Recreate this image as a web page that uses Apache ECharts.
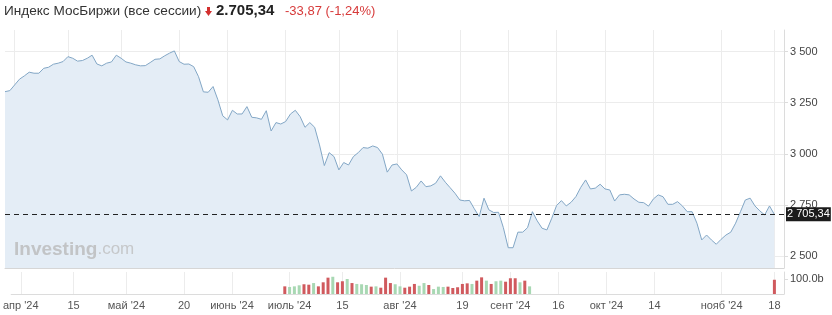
<!DOCTYPE html>
<html><head><meta charset="utf-8">
<script src="https://cdn.jsdelivr.net/npm/echarts@6/dist/echarts.min.js"></script>
<style>html,body{margin:0;padding:0;background:#fff}#c{width:832px;height:315px}</style>
</head><body><div id="c"></div>
<script>
// Daily close values of the MOEX index
const closes = [
3304,3309,3337,3365,3381,3399,3394,3394,3418,3423,3438,3443,3451,3475,3467,3453,3456,3467,3482,3439,
3430,3443,3449,3482,3467,3449,3443,3435,3430,3431,3446,3462,3464,3479,3492,3503,3451,3438,3439,3426,
3377,3303,3301,3329,3264,3186,3166,3213,3195,3195,3231,3179,3176,3169,3211,3112,3153,3146,3158,3195,
3213,3182,3130,3153,3130,3044,2943,3006,2987,2922,2958,2946,2987,3006,3031,3028,3039,3031,2999,2911,
2946,2951,2922,2898,2819,2837,2868,2840,2844,2857,2893,2862,2835,2808,2775,2771,2773,2732,2694,2784,
2727,2714,2715,2640,2542,2542,2618,2618,2640,2718,2673,2637,2629,2686,2748,2772,2746,2764,2792,2837,
2873,2829,2833,2852,2829,2824,2770,2800,2803,2800,2780,2764,2762,2745,2780,2800,2791,2754,2754,2767,
2746,2718,2718,2662,2580,2604,2580,2559,2583,2604,2618,2662,2718,2775,2784,2746,2722,2702,2746,2705.34
];
// Tick labels: [category index, text]
const tickLabels = [
[2,"апр '24"],[13,"15"],[24,"май '24"],[36,"20"],[46,"июнь '24"],[58,"июль '24"],[69,"15"],
[81,"авг '24"],[94,"19"],[104,"сент '24"],[114,"16"],[124,"окт '24"],[134,"14"],[148,"нояб '24"],[159,"18"]
];
const priceTicks = [2500,2750,3000,3250,3500];
const volumeTicks = [100];
// Volumes (billions) for the days where bars are shown
const volFirstIndex = 57;
const volumes = [51,47,51,58,65,62,73,51,78,109,115,78,85,100,73,67,65,60,49,51,
42,109,73,65,51,42,49,67,55,73,60,33,49,47,49,40,45,67,71,67,
89,111,89,67,85,89,82,105,105,78,89,51];
const volDirs = 'rgggrrgrrrgrrgrgggrgrrrggrrrggrgggrrrrrgrrgrggrrrgrg';
const lastVolIndex = 159;
const lastVolume = 95;
const lastVolDir = 'r';
const lastPrice = 2705.34;
const priceText = '2.705,34';
const lastPriceLabel = '2 705,34';
const changeText = '-33,87 (-1,24%)';
const extraSlots = 2;

const total = closes.length + extraSlots;
const categories = Array.from({length: total}, (_, i) => 'd' + i);
const labelMap = new Map(tickLabels);
const isTick = (i) => labelMap.has(i);
const fmtSpace = v => String(v).replace(/\B(?=(\d{3})+(?!\d))/g, ' ');
const RED = '#d05a5e', GREEN = '#a8d8b3';
const volData = categories.map(() => null);
volumes.forEach((v, k) => { volData[volFirstIndex + k] = {value: v, itemStyle: {color: volDirs[k] === 'r' ? RED : GREEN}}; });
volData[lastVolIndex] = {value: lastVolume, itemStyle: {color: lastVolDir === 'r' ? RED : GREEN}};

const FONT = 'Liberation Sans, Arial, sans-serif';
const chart = echarts.init(document.getElementById('c'), null, {renderer: 'canvas'});
const gridLine = {show: true, interval: isTick, lineStyle: {color: '#ececec', width: 1}};
chart.setOption({
  animation: false,
  textStyle: {fontFamily: FONT},
  grid: [
    {left: 5, right: 48, top: 30, bottom: 47},
    {left: 5, right: 48, top: 272, height: 22}
  ],
  xAxis: [
    {type: 'category', gridIndex: 0, data: categories, boundaryGap: false,
     axisLine: {show: true, lineStyle: {color: '#d6d6d6'}}, axisTick: {show: false},
     axisLabel: {show: false}, splitLine: gridLine},
    {type: 'category', gridIndex: 1, data: categories, boundaryGap: false,
     axisLine: {show: true, lineStyle: {color: '#dcdcdc'}}, axisTick: {show: false},
     axisLabel: {show: true, interval: isTick, formatter: (v, i) => labelMap.get(i) || '',
                 color: '#555', fontSize: 11, margin: 6, fontFamily: FONT},
     splitLine: gridLine}
  ],
  yAxis: [
    {type: 'value', gridIndex: 0, position: 'right', min: 2443, max: 3605, scale: true,
     axisLine: {show: true, lineStyle: {color: '#dcdcdc'}},
     axisTick: {show: true, length: 4, customValues: priceTicks, lineStyle: {color: '#dcdcdc'}},
     axisLabel: {customValues: priceTicks, formatter: fmtSpace, color: '#444', fontSize: 11, margin: 6, fontFamily: FONT},
     splitLine: {show: true, lineStyle: {color: '#ececec'}}},
    {type: 'value', gridIndex: 1, position: 'right', min: 0, max: 146.7,
     axisLine: {show: true, lineStyle: {color: '#dcdcdc'}},
     axisTick: {show: true, length: 4, customValues: volumeTicks, lineStyle: {color: '#dcdcdc'}},
     axisLabel: {customValues: volumeTicks, formatter: v => v.toFixed(1) + 'b', color: '#444', fontSize: 11, margin: 6, fontFamily: FONT},
     splitLine: {show: false}}
  ],
  series: [
    {type: 'line', xAxisIndex: 0, yAxisIndex: 0, data: closes, showSymbol: false, symbol: 'none',
     lineStyle: {color: '#82a6c5', width: 1}, areaStyle: {color: '#e4edf6', opacity: 1},
     markLine: {silent: true, symbol: ['none', 'none'],
       lineStyle: {type: [5, 4], color: '#222', width: 1},
       label: {show: true, position: 'end', distance: 2, formatter: lastPriceLabel,
               color: '#fff', backgroundColor: '#1b1b1b', padding: [2, 1, 1, 1], fontSize: 11, fontFamily: FONT},
       data: [{yAxis: lastPrice}]}},
    {type: 'bar', xAxisIndex: 1, yAxisIndex: 1, data: volData, barWidth: 3}
  ],
  graphic: [
    {type: 'text', left: 4, top: 4, z: 100, style: {text: 'Индекс МосБиржи (все сессии)', fill: '#333', fontSize: 13.6, fontFamily: FONT}},
    {type: 'group', left: 205, top: 7, z: 100, children: [
      {type: 'rect', shape: {x: 2, y: 0, width: 3, height: 5}, style: {fill: '#d3302f'}},
      {type: 'polygon', shape: {points: [[0, 4], [7, 4], [3.5, 9]]}, style: {fill: '#d3302f'}}
    ]},
    {type: 'text', left: 216, top: 3, z: 100, style: {text: priceText, fill: '#222', fontSize: 15, fontWeight: 'bold', fontFamily: FONT}},
    {type: 'text', left: 285, top: 5, z: 100, style: {text: changeText, fill: '#d73a3a', fontSize: 13, fontFamily: FONT}},
    {type: 'text', left: 14, top: 240, z: 100, style: {rich: {b: {fontSize: 19, fontWeight: 'bold', fill: '#c2c4c6', fontFamily: FONT}, c: {fontSize: 17, fill: '#c6c8ca', fontFamily: FONT}}, text: '{b|Investing}{c|.com}'}}
  ]
});
</script></body></html>
